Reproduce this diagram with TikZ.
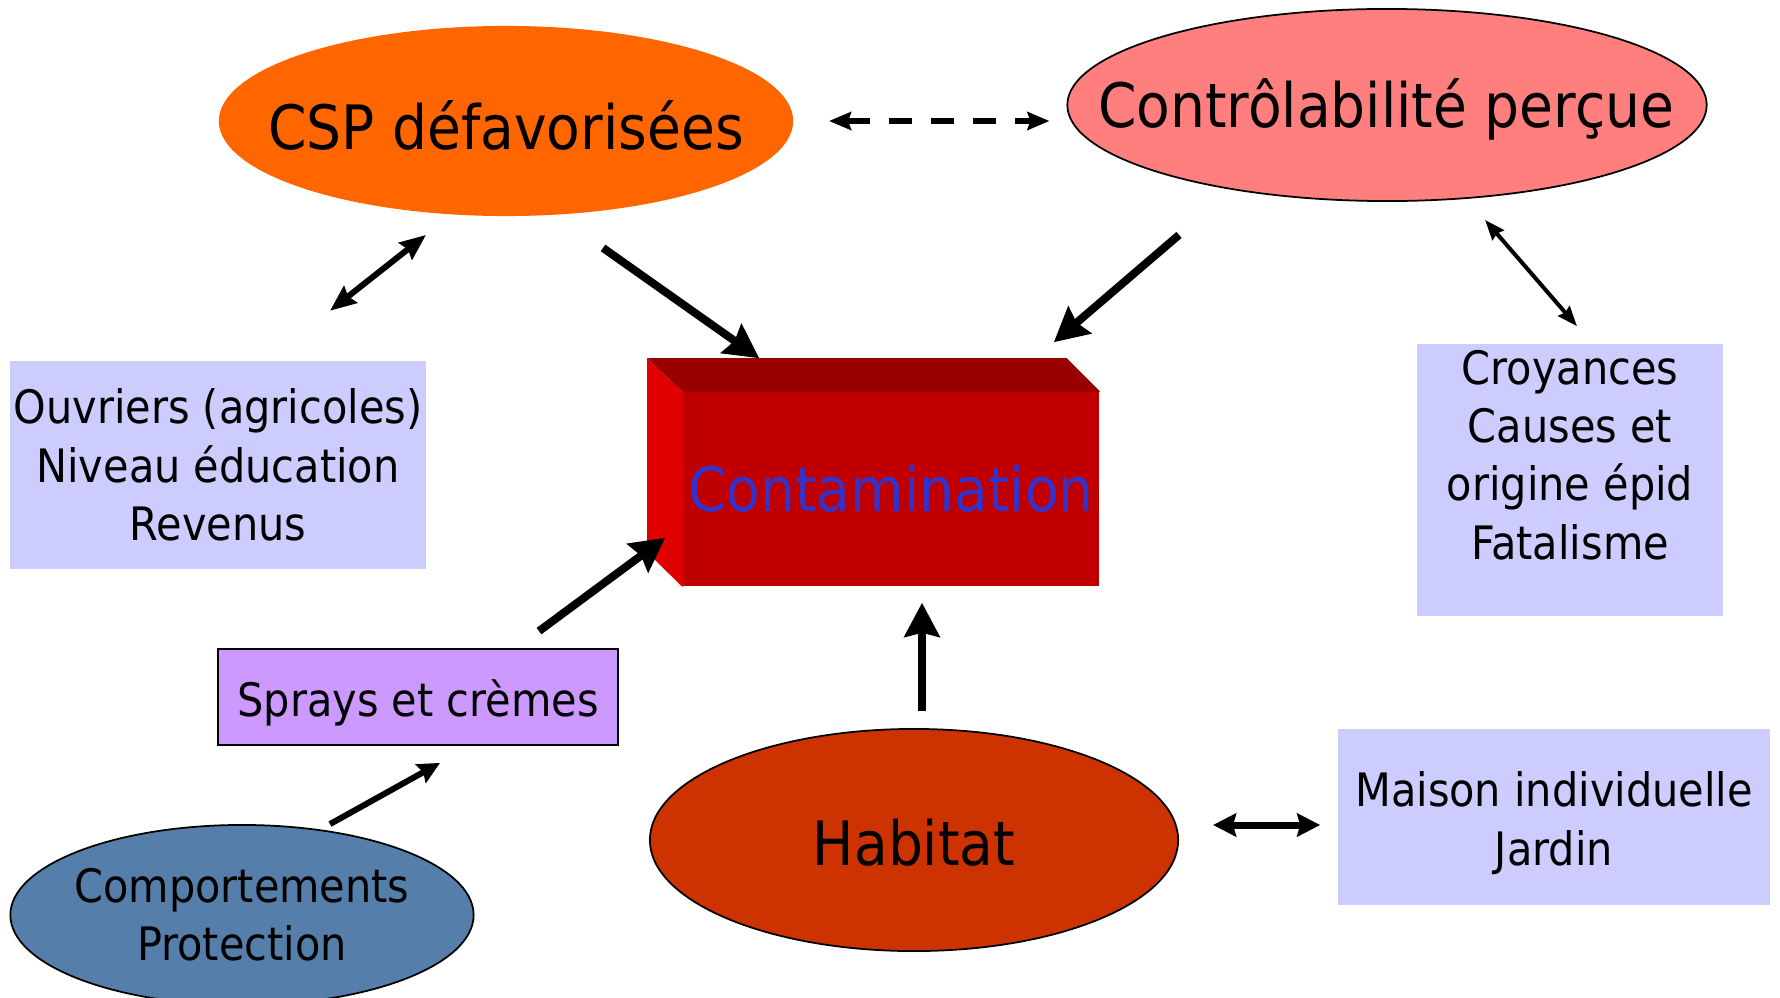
\documentclass[tikz,border=0pt]{standalone}
\usepackage{fontspec}
\setmainfont{DejaVu Sans}[FakeStretch=0.9]
\usetikzlibrary{shapes.geometric, arrows.meta, calc}
\pgfdeclarelayer{background}
\pgfsetlayers{background,main}

\definecolor{cspOrange}{HTML}{FF6600}
\definecolor{ctrlPink}{HTML}{FF7F7F}
\definecolor{habitatRed}{HTML}{CC3300}
\definecolor{compBlue}{HTML}{557FAA}
\definecolor{infoBlue}{HTML}{CCCCFF}
\definecolor{spraysLilac}{HTML}{CC99FF}
\definecolor{contFront}{HTML}{C00000}
\definecolor{contTop}{HTML}{990000}
\definecolor{contLeft}{HTML}{E00000}
\definecolor{contText}{HTML}{3333CC}

\begin{document}
\begin{tikzpicture}[x = 0.01cm, y = -0.01cm]
\tikzstyle{bigText} = [font = \fontsize{17.4}{21}\selectfont]
\tikzstyle{smallText} = [font = \fontsize{13.1}{16.6}\selectfont, align = center]
\tikzstyle{ovalStyle} = [shape = ellipse, inner sep = 0pt, draw = black, line width = 0.5pt]
\tikzstyle{infoStyle} = [shape = rectangle, inner sep = 0pt, fill = infoBlue]
\tikzstyle{bigArrow} = [line width = 0.08cm, -{Stealth[length = 0.34cm, width = 0.35cm, inset = 0.04cm]}]
\tikzstyle{dashArrow} = [line width = 0.065cm, dash pattern = on 0.23cm off 0.19cm, {Stealth[length = 0.22cm, width = 0.18cm, inset = 0.03cm]}-{Stealth[length = 0.22cm, width = 0.18cm, inset = 0.03cm]}]
\tikzstyle{midArrow} = [line width = 0.06cm, {Stealth[length = 0.26cm, width = 0.21cm, inset = 0.03cm]}-{Stealth[length = 0.26cm, width = 0.21cm, inset = 0.03cm]}]
\tikzstyle{wideArrow} = [line width = 0.07cm, {Stealth[length = 0.23cm, width = 0.23cm, inset = 0.03cm]}-{Stealth[length = 0.23cm, width = 0.23cm, inset = 0.03cm]}]
\tikzstyle{thinArrow} = [line width = 0.04cm, {Stealth[length = 0.2cm, width = 0.15cm, inset = 0.02cm]}-{Stealth[length = 0.2cm, width = 0.15cm, inset = 0.02cm]}]
\tikzstyle{smallArrow} = [line width = 0.06cm, -{Stealth[length = 0.22cm, width = 0.21cm, inset = 0.03cm]}]
\useasboundingbox (0,0) rectangle (1780,997);

\node[ovalStyle, draw = none, fill = cspOrange, minimum width = 5.74cm, minimum height = 1.90cm] (csp) at (506,121) {};
\node[bigText] (cspLabel) at (506,125) {CSP défavorisées};
\node[ovalStyle, fill = ctrlPink, minimum width = 6.39cm, minimum height = 1.92cm] (ctrl) at (1387,105) {};
\node[bigText] (ctrlLabel) at (1386,109) {Contrôlabilité perçue};
\node[ovalStyle, fill = habitatRed, minimum width = 5.28cm, minimum height = 2.22cm] (habitat) at (914,840) {};
\node[bigText] (habitatLabel) at (914,843) {Habitat};
\node[ovalStyle, fill = compBlue, minimum width = 4.63cm, minimum height = 1.80cm] (comp) at (242,915) {};
\node[smallText] (compLabel) at (242,915) {Comportements\\Protection};

\node[infoStyle, smallText, minimum width = 4.16cm, minimum height = 2.07cm] (ouv) at (218,465) {Ouvriers (agricoles)\\Niveau éducation\\Revenus};
\node[infoStyle, minimum width = 3.05cm, minimum height = 2.72cm] (croy) at (1570,480) {};
\node[smallText] (croyLabel) at (1570,455) {Croyances\\Causes et\\origine épid\\Fatalisme};
\node[infoStyle, minimum width = 4.32cm, minimum height = 1.75cm] (maison) at (1554,817) {};
\node[smallText] (maisonLabel) at (1554,823) {Maison individuelle\\Jardin};
\node[infoStyle, fill = spraysLilac, draw = black, line width = 0.5pt, minimum width = 4.00cm, minimum height = 0.96cm] (sprays) at (418,697) {};
\node[smallText] (spraysLabel) at (418,703) {Sprays et crèmes};

\node[shape = rectangle, inner sep = 0pt, fill = contFront, text = contText, bigText, minimum width = 4.16cm, minimum height = 1.94cm] (cont) at (891,489) {Contamination};
\begin{pgfonlayer}{background}
\fill[white] (0,0) rectangle (1780,997);
\fill[contTop] ($(cont.north west)+(4,4)$) -- ($(cont.north west)+(-35,-33)$) -- ($(cont.north east)+(-33,-33)$) -- (cont.north east) -- ($(cont.north east)+(-4,4)$) -- cycle;
\fill[contLeft] (cont.north west) -- ++(-35,-33) -- ++(0,194) -- (cont.south west) -- ($(cont.south west)+(4,-4)$) -- ($(cont.north west)+(4,4)$) -- cycle;
\end{pgfonlayer}

\draw[dashArrow, shorten <= 0.35cm, shorten >= 0.17cm] (csp.east) -- (csp.east -| ctrl.west);
\draw[midArrow] ($(ouv.north)+(112,-50)$) -- ($(csp.south)+(-80,18)$);
\draw[bigArrow] ($(csp.south)+(97,31)$) -- ($(cont.north west)+(77,-33)$);
\draw[bigArrow] ($(ctrl.south)+(-208,33)$) -- ($(cont.north east)+(-46,-49)$);
\draw[thinArrow] ($(ctrl.south)+(98,18)$) -- ($(croy.north)+(7,-17)$);
\draw[bigArrow] ($(sprays.north)+(121,-17)$) -- ($(cont.south west)+(-17,-49)$);
\draw[bigArrow] ($(habitat.north)+(8,-17)$) -- ($(cont.south)+(31,16)$);
\draw[wideArrow] ($(habitat.east)+(34,-15)$) -- ($(maison.west)+(-17,8)$);
\draw[smallArrow] ($(comp.north)+(88,0)$) -- ($(sprays.south)+(22,17)$);
\end{tikzpicture}
\end{document}
